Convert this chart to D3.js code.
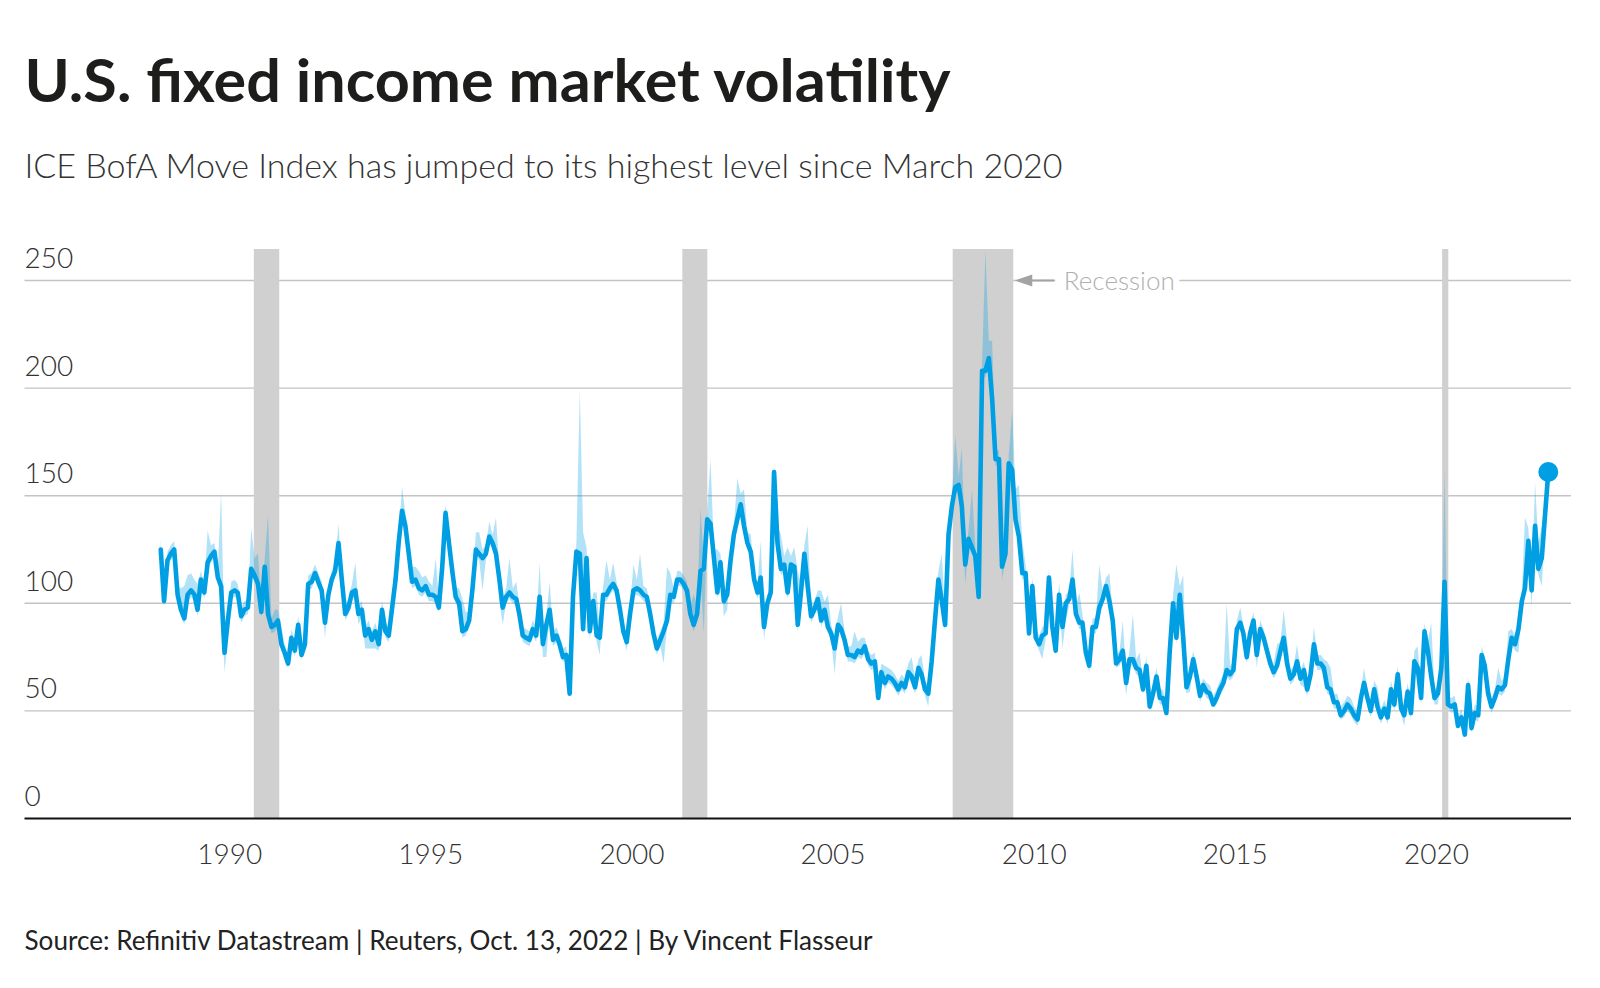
<!DOCTYPE html>
<html><head><meta charset="utf-8">
<script src="https://cdn.jsdelivr.net/npm/d3@7"></script>
<style>
html,body{margin:0;padding:0;background:#fff;}
svg{display:block;}
</style></head>
<body>
<svg id="chart" width="1600" height="988"></svg>
<script>
// ICE BofA MOVE index, monthly readings from April 1988; last reading Oct. 13, 2022
const values = [
125,101,120,123,125,104,97,93,104,106,
104,97,111,105,119,122,124,112,108,77,
92,105,106,105,94,97,98,116,113,109,
96,117,95,89,90,92,81,77,72,84,
78,90,76,81,109,110,114,110,106,91,
104,111,115,128,111,95,98,105,106,95,
97,85,88,83,87,81,97,87,85,98,
111,128,143,136,123,110,111,107,106,108,
104,104,103,98,117,142,
128,115,103,100,87,88,92,107,125,123,
121,123,131,128,123,111,98,103,105,103,
102,95,85,84,83,88,85,103,81,90,
97,83,85,81,75,76,58,103,124,123,
88,121,87,101,85,84,104,104,107,109,
106,97,87,82,95,106,107,106,104,103,
95,86,79,83,87,92,104,103,111,111,
109,106,95,90,95,115,116,139,137,121,
105,119,101,104,120,132,139,
146,136,128,124,111,105,112,89,100,105,
161,128,116,118,105,118,117,90,105,123,
108,94,97,102,92,97,89,86,79,90,
88,83,76,76,75,78,77,80,74,72,
73,56,68,63,66,65,63,60,63,61,
68,66,61,70,67,60,58,73,92,111,
101,90,132,145,154,155,145,118,130,126,
122,103,208,208,214,195,167,167,117,123,
165,162,139,131,114,114,86,
108,84,81,85,86,112,89,78,104,89,
100,102,111,95,91,91,77,71,89,89,
98,102,108,101,92,72,74,78,63,74,
74,70,69,60,71,52,58,66,56,56,
49,77,100,84,104,84,61,66,74,66,
57,62,59,58,53,56,60,63,69,67,
69,88,91,86,75,86,92,76,88,84,
78,72,68,71,78,84,72,65,67,73,
65,69,60,67,81,72,72,
70,61,60,54,54,48,50,53,51,48,
46,56,63,56,50,60,52,47,51,47,
60,53,67,51,48,59,49,73,70,56,
87,78,66,56,58,70,110,
53,52,53,43,47,39,62,42,49,48,
76,71,58,52,56,61,60,62,74,84,
81,88,101,107,129,106,136,116,
121,
161
];

// monthly range around each reading: how far the band reaches above / below it
const bandAbove = [
5,4,4,4,4,4,10,15,9,8,
7,12,4,4,15,5,4,4,44,4,
4,5,5,4,4,4,4,19,8,14,
4,4,46,4,7,5,8,4,4,4,
4,4,4,4,4,4,4,4,4,4,
4,4,4,9,4,4,4,4,13,4,
4,4,4,4,4,4,4,4,4,4,
4,4,11,6,4,7,6,8,6,5,
6,4,18,4,4,4,
4,4,4,7,15,8,4,4,8,10,
4,4,7,4,17,4,4,4,16,4,
8,4,4,4,4,4,4,16,4,4,
13,4,4,4,4,4,4,4,4,76,
45,5,4,4,20,4,4,16,4,10,
4,4,4,4,4,12,4,17,4,4,
4,4,4,4,4,25,10,4,4,4,
4,4,4,14,4,29,4,4,30,4,
20,4,4,4,4,4,19,
5,17,5,8,4,4,17,4,4,4,
3,8,16,4,21,4,9,25,4,4,
28,4,4,4,14,4,15,4,4,4,
12,4,4,4,12,4,7,4,4,4,
4,4,4,8,4,4,4,4,4,4,
4,9,4,4,9,4,4,4,4,4,
22,4,4,4,24,4,27,4,4,27,
4,4,4,56,8,27,4,4,4,4,
4,28,14,24,15,4,4,
4,4,4,4,4,4,4,4,6,4,
4,4,14,4,14,4,4,4,4,4,
20,4,4,13,4,4,4,14,4,4,
21,4,8,4,4,4,4,4,4,4,
4,4,4,34,4,29,4,4,4,4,
4,3,4,4,4,4,4,4,31,4,
4,4,7,4,4,4,4,4,4,4,
4,4,4,10,4,13,11,4,4,8,
4,4,4,4,8,4,4,
4,12,10,4,4,4,4,4,5,4,
4,4,7,4,4,4,9,4,4,4,
4,4,4,4,4,4,4,5,10,4,
4,4,25,4,4,4,53,
4,4,4,4,4,4,4,4,4,4,
4,4,6,4,4,9,4,4,13,4,
4,4,4,33,6,4,20,12,
15,
2
];
const bandBelow = [
3,2,3,3,3,3,3,3,3,3,
3,3,3,3,3,3,3,3,3,9,
8,3,3,3,3,3,3,3,3,3,
3,3,3,3,3,3,3,3,2,3,
3,3,2,3,3,3,3,3,3,7,
3,3,3,3,3,3,3,3,3,5,
3,6,9,4,8,3,3,3,3,3,
3,3,3,3,3,3,3,3,3,3,
3,3,3,2,3,3,
3,3,3,3,3,3,3,3,3,3,
15,3,3,3,3,10,8,3,3,3,
3,3,3,3,3,3,3,3,6,15,
3,3,3,3,2,3,1,3,3,3,
3,3,4,3,3,8,3,3,3,3,
3,3,3,4,3,3,3,3,3,3,
3,3,3,3,15,3,3,3,3,3,
3,3,3,3,3,3,30,3,3,3,
3,3,7,7,3,3,3,
3,3,3,3,3,3,3,6,3,3,
3,3,3,3,3,3,3,3,3,3,
3,3,3,3,3,3,3,3,12,3,
3,3,3,3,3,3,3,3,3,3,
3,1,3,3,3,3,3,3,3,3,
3,3,3,3,3,3,6,3,3,3,
3,3,3,3,3,3,3,9,3,3,
3,1,3,3,3,3,3,3,6,3,
3,3,3,3,3,2,3,
3,2,3,11,3,3,3,2,3,10,
8,3,3,3,3,3,3,3,3,3,
3,3,3,3,3,2,3,3,6,3,
3,3,3,2,3,2,3,3,3,3,
1,3,3,3,3,3,3,7,3,3,
3,3,3,3,1,3,3,3,3,3,
3,3,3,3,3,3,3,6,3,3,
3,3,3,3,3,3,3,3,3,3,
3,8,3,3,3,3,3,
3,3,3,3,3,2,3,3,3,3,
3,3,3,3,3,3,3,3,3,3,
3,3,3,3,5,3,3,3,3,3,
3,3,3,3,5,3,3,
2,3,3,1,3,1,3,2,3,3,
3,3,3,3,3,3,3,3,3,3,
3,11,3,3,3,8,3,3,
13,
2
];

const yTicks = [0, 50, 100, 150, 200, 250];
const xTickYears = [1990, 1995, 2000, 2005, 2010, 2015, 2020];
const recessionStarts = ["1990-08-08", "2001-04-03", "2007-12-23", "2020-02-22"];
const recessionEnds   = ["1991-03-27", "2001-11-16", "2009-06-25", "2020-04-18"];
const firstYear = 1988, firstMonthIdx = 3;  // April 1988
const lastReading = "2022-10-13";

const titleText = "U.S. fixed income market volatility";
const subtitleText = "ICE BofA Move Index has jumped to its highest level since March 2020";
const sourceText = "Source: Refinitiv Datastream | Reuters, Oct. 13, 2022 | By Vincent Flasseur";
const annotationText = "Recession";

// ---------- drawing ----------
const parse = d3.timeParse("%Y-%m-%d");
const n = values.length;
const data = values.map((v, i) => ({
  date: i === n - 1 ? parse(lastReading) : new Date(firstYear, firstMonthIdx + i, 15),
  v: v,
  hi: v + bandAbove[i],
  lo: v - bandBelow[i]
}));

const FONT = "'Source Sans Pro', Lato, sans-serif";
const svg = d3.select("#chart");
const left = 24.5, right = 1571;

const x = d3.scaleTime()
  .domain([new Date(1990, 0, 1), new Date(2020, 0, 1)])
  .range([229.7, 1436.4]);
const y = d3.scaleLinear().domain([0, 250]).range([818.5, 280.5]);

function fitText(sel, target) {
  sel.attr("textLength", target).attr("lengthAdjust", "spacingAndGlyphs");
}

// title, subtitle
svg.append("text").attr("x", left).attr("y", 102.3)
  .attr("font-family", FONT).attr("font-weight", 700).attr("font-size", 59)
  .attr("fill", "#1d1d1b").text(titleText).call(fitText, 926);
svg.append("text").attr("x", left).attr("y", 177.5)
  .attr("font-family", FONT).attr("font-weight", 300).attr("font-size", 33)
  .attr("fill", "#333").text(subtitleText).call(fitText, 1038);

// gridlines
svg.append("g").selectAll("line").data(yTicks.filter(d => d > 0)).join("line")
  .attr("x1", left).attr("x2", right)
  .attr("y1", d => y(d)).attr("y2", d => y(d))
  .attr("stroke", "#c4c4c4").attr("stroke-width", 1.4);

// recession bars
svg.append("g").selectAll("rect").data(recessionStarts.map((s, i) => [parse(s), parse(recessionEnds[i])]))
  .join("rect")
  .attr("x", d => x(d[0])).attr("width", d => x(d[1]) - x(d[0]))
  .attr("y", 249).attr("height", y(0) - 249)
  .attr("fill", "#d0d0d0");

// y labels
svg.append("g").selectAll("text").data(yTicks).join("text")
  .attr("x", left).attr("y", d => y(d) - 12.5)
  .attr("font-family", FONT).attr("font-weight", 300).attr("font-size", 28)
  .attr("fill", "#333").text(d => d);

// band
const area = d3.area().x(d => x(d.date)).y0(d => y(d.lo)).y1(d => y(d.hi));
svg.append("path").datum(data).attr("d", area)
  .attr("fill", "rgba(0,160,230,0.3)");

// line
const line = d3.line().x(d => x(d.date)).y(d => y(d.v));
svg.append("path").datum(data).attr("d", line)
  .attr("fill", "none").attr("stroke", "#009fe3").attr("stroke-width", 4.6)
  .attr("stroke-linejoin", "round").attr("stroke-linecap", "round");

// end dot
const last = data[n - 1];
svg.append("circle").attr("cx", x(last.date)).attr("cy", y(last.v)).attr("r", 10)
  .attr("fill", "#009fe3");

// x axis line
svg.append("line").attr("x1", left).attr("x2", right)
  .attr("y1", y(0)).attr("y2", y(0)).attr("stroke", "#111").attr("stroke-width", 2.2);

// x labels
svg.append("g").selectAll("text").data(xTickYears).join("text")
  .attr("x", d => x(new Date(d, 0, 1))).attr("y", 864)
  .attr("text-anchor", "middle")
  .attr("font-family", FONT).attr("font-weight", 300).attr("font-size", 28)
  .attr("fill", "#333").text(d => d);

// recession annotation
const barEnd = x(parse(recessionEnds[2]));
const gy = y(250);
svg.append("rect").attr("x", barEnd + 42).attr("y", gy - 8).attr("width", 124).attr("height", 16).attr("fill", "#fff");
svg.append("line").attr("x1", barEnd + 16).attr("x2", barEnd + 41).attr("y1", gy).attr("y2", gy)
  .attr("stroke", "#a3a3a3").attr("stroke-width", 2);
svg.append("path")
  .attr("d", `M${barEnd + 1.5},${gy} L${barEnd + 19},${gy - 6} L${barEnd + 19},${gy + 6} Z`)
  .attr("fill", "#a3a3a3");
svg.append("text").attr("x", barEnd + 50.5).attr("y", gy + 9)
  .attr("font-family", FONT).attr("font-weight", 300).attr("font-size", 25)
  .attr("fill", "#b0b0b0").text(annotationText).call(fitText, 111);

// source
svg.append("text").attr("x", left).attr("y", 949.5)
  .attr("font-family", FONT).attr("font-weight", 400).attr("font-size", 26)
  .attr("fill", "#222").text(sourceText).call(fitText, 848);
</script>
</body></html>
